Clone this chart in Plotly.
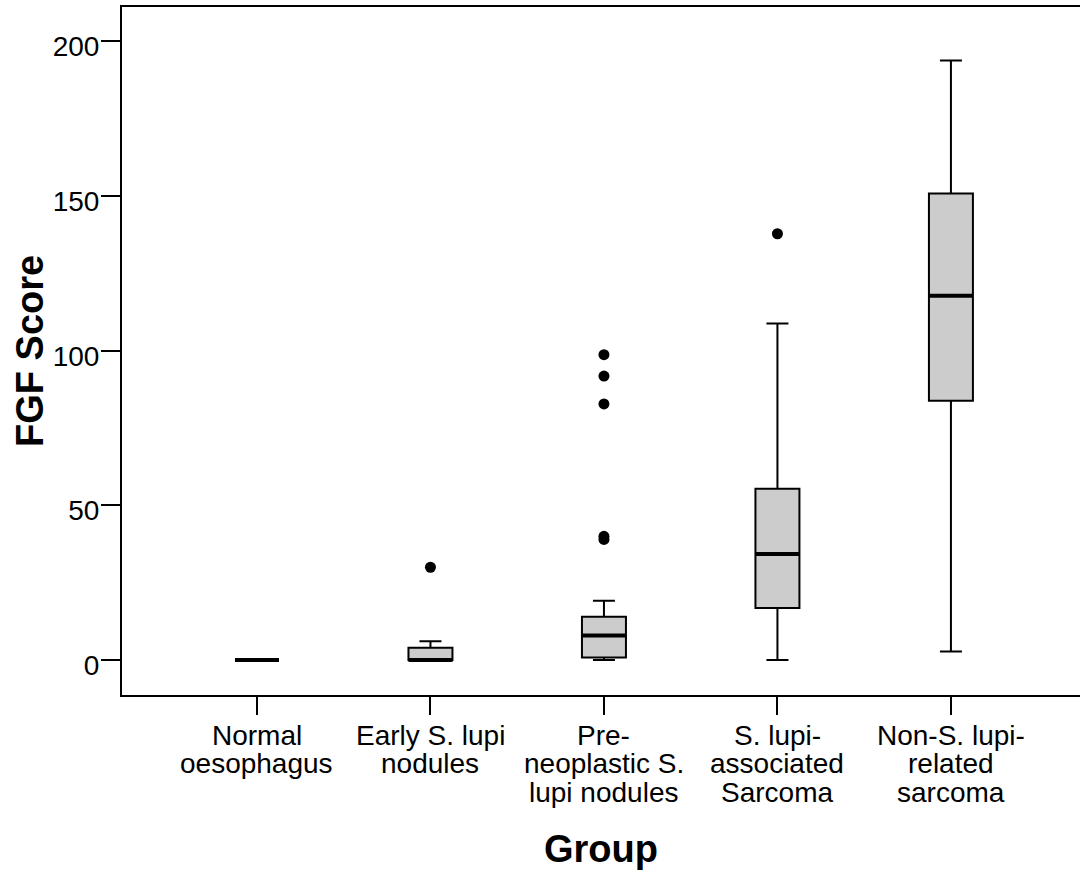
import plotly.graph_objects as go

# ---- data ----
groups = ["Normal oesophagus", "Early S. lupi nodules", "Pre-neoplastic S. lupi nodules",
          "S. lupi-associated Sarcoma", "Non-S. lupi-related sarcoma"]
label_lines = [["Normal", "oesophagus"],
               ["Early S. lupi", "nodules"],
               ["Pre-", "neoplastic S.", "lupi nodules"],
               ["S. lupi-", "associated", "Sarcoma"],
               ["Non-S. lupi-", "related", "sarcoma"]]
q1 = [0, 0, 0.8, 16.8, 83.8]
median = [0, 0, 7.9, 34.3, 117.8]
q3 = [0, 4.0, 14.0, 55.4, 150.8]
lowerfence = [0, 0, 0, 0, 2.8]
upperfence = [0, 6.1, 19.2, 108.8, 193.8]
outlier_group = [1, 2, 2, 2, 2, 2, 3]
outlier_value = [30, 39, 40, 82.8, 91.8, 98.7, 137.8]
yticks = [0, 50, 100, 150, 200]

FONT = "Arial, 'Liberation Sans', Helvetica, sans-serif"
pos = list(range(len(groups)))

fig = go.Figure()
# boxes
fig.add_trace(go.Box(
    x=pos, q1=q1, median=median, q3=q3, lowerfence=lowerfence, upperfence=upperfence,
    boxpoints=False, width=0.2536, whiskerwidth=0.5,
    fillcolor="#cccccc", line=dict(color="black", width=2), showlegend=False,
    hoverinfo="skip"))
# thick median lines
fig.add_trace(go.Box(
    x=pos, q1=median, median=median, q3=median, lowerfence=median, upperfence=median,
    boxpoints=False, width=0.2536, whiskerwidth=0,
    fillcolor="rgba(0,0,0,0)", line=dict(color="black", width=4), showlegend=False,
    hoverinfo="skip"))
# outliers
fig.add_trace(go.Scatter(
    x=outlier_group, y=outlier_value, mode="markers",
    marker=dict(color="black", size=11), showlegend=False, hoverinfo="skip"))

annotations = []
for i, lines in enumerate(label_lines):
    for k, txt in enumerate(lines):
        annotations.append(dict(
            x=i, xref="x", y=0, yref="paper", yanchor="middle", xanchor="center",
            yshift=-(735 - 695) - 28.5 * k, text=txt, showarrow=False,
            font=dict(family=FONT, size=28, color="black")))
annotations.append(dict(
    x=0, xref="paper", y=0.5, yref="paper", xanchor="center", yanchor="middle",
    xshift=-92, text="<b>FGF Score</b>", textangle=-90, showarrow=False,
    font=dict(family=FONT, size=38, color="black")))
annotations.append(dict(
    x=0.5, xref="paper", y=0, yref="paper", xanchor="center", yanchor="middle",
    yshift=-(849 - 695), text="<b>Group</b>", showarrow=False,
    font=dict(family=FONT, size=38, color="black")))

fig.update_layout(
    width=1080, height=874,
    margin=dict(l=122, r=0, t=7, b=179, pad=0),
    paper_bgcolor="white", plot_bgcolor="white",
    boxmode="overlay",
    font=dict(family=FONT, color="black"),
    annotations=annotations,
    xaxis=dict(range=[-0.778, 4.744], tickvals=pos, showticklabels=False,
               ticks="outside", ticklen=18, tickwidth=2, tickcolor="black",
               showline=True, linewidth=2, linecolor="black", mirror=True,
               showgrid=False, zeroline=False),
    yaxis=dict(range=[-11.3, 211.1], tickvals=yticks, ticks="outside", ticklen=19,
               tickwidth=2, tickcolor="black", showline=True, linewidth=2,
               linecolor="black", showgrid=False, zeroline=False,
               tickfont=dict(family=FONT, size=28, color="black"),
               ticklabelshift=5, ticklabelstandoff=-4),
)

fig.write_html("out.html")
